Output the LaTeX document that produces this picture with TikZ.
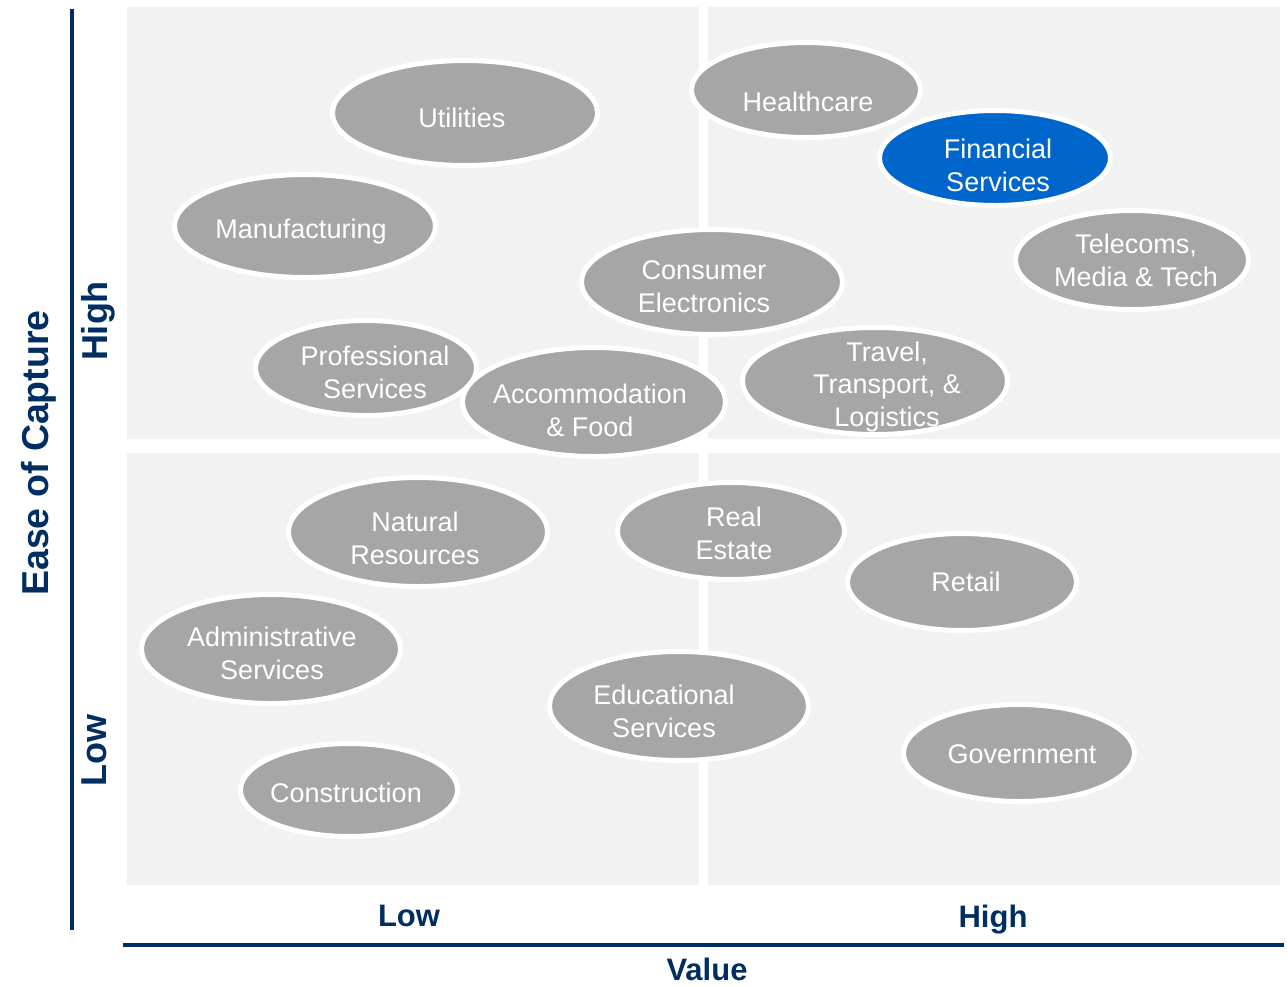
\documentclass[tikz,border=0pt]{standalone}
\usepackage{fontspec}
\setmainfont{Liberation Sans}
\usetikzlibrary{shapes.geometric}
\definecolor{navy}{HTML}{002D62}
\definecolor{panel}{HTML}{F2F2F2}
\definecolor{bubblegray}{HTML}{A6A6A6}
\definecolor{bubbleblue}{HTML}{0066CC}
\tikzset{
  panelbox/.style={fill=panel, draw=none},
  axisline/.style={draw=navy, line width=4pt},
  bubble/.style={ellipse, fill=bubblegray, draw=white, line width=5pt, inner sep=0pt},
  bluebubble/.style={bubble, fill=bubbleblue},
  btext/.style={text=white, align=center, inner sep=0pt, text depth=0pt,
    font=\fontsize{27}{32.5}\selectfont},
  axislabel/.style={text=navy, inner sep=0pt, text depth=0pt,
    font=\fontsize{31}{36}\selectfont\bfseries},
  sidelabel/.style={text=navy, inner sep=0pt, text depth=0pt, rotate=90,
    font=\fontsize{36}{40}\selectfont\bfseries}
}
\begin{document}
\begin{tikzpicture}[x=1pt, y=-1pt]
\useasboundingbox (0,0) rectangle (1288,986);

% quadrant panels
\fill[panelbox] (127,7) rectangle (699,439);
\fill[panelbox] (708,7) rectangle (1280,439);
\fill[panelbox] (127,453) rectangle (699,885);
\fill[panelbox] (708,453) rectangle (1280,885);

% axes
\coordinate (ytop) at (72,9);
\coordinate (ybot) at (72,930);
\coordinate (xleft) at (123,945);
\coordinate (xright) at (1284,945);
\draw[axisline] (ytop) -- (ybot);
\draw[axisline] (xleft) -- (xright);

% axis labels
\node[sidelabel, font=\fontsize{37.5}{42}\selectfont\bfseries] (ease) at (35,453) {Ease of Capture};
\node[sidelabel] (yhigh) at (94,321) {High};
\node[sidelabel] (ylow) at (94,750) {Low};
\node[axislabel] (xlow) at (409,916) {Low};
\node[axislabel] (xhigh) at (993,916) {High};
\node[axislabel] (value) at (707,969) {Value};

% sector bubbles, high ease of capture
\node[bubble, minimum width=265pt, minimum height=105pt] (util) at (465,113) {};
\node[btext] (util-t) at (462,118) {Utilities};

\node[bubble, minimum width=229pt, minimum height=95pt] (health) at (806,90) {};
\node[btext] (health-t) at (808,102) {Healthcare};

\node[bluebubble, minimum width=231pt, minimum height=95pt] (fin) at (995,158) {};
\node[btext] (fin-t) at (998,165) {Financial\\Services};

\node[bubble, minimum width=261pt, minimum height=103pt] (manu) at (305,226) {};
\node[btext] (manu-t) at (301,229) {Manufacturing};

\node[bubble, minimum width=261pt, minimum height=105pt] (cons) at (712,282) {};
\node[btext] (cons-t) at (704,286.5) {Consumer\\Electronics};

\node[bubble, minimum width=233pt, minimum height=99pt] (tele) at (1132,260) {};
\node[btext] (tele-t) at (1136,260) {Telecoms,\\Media \& Tech};

\node[bubble, minimum width=221pt, minimum height=95pt] (prof) at (366,368) {};
\node[btext] (prof-t) at (375,372) {Professional\\Services};

\node[bubble, minimum width=263pt, minimum height=109pt] (accom) at (594,402) {};
\node[btext] (accom-t) at (590,410) {Accommodation\\\& Food};

\node[bubble, minimum width=265pt, minimum height=107pt] (travel) at (875,381) {};
\node[btext] (travel-t) at (887,384) {Travel,\\Transport, \&\\Logistics};

% sector bubbles, low ease of capture
\node[bubble, minimum width=259pt, minimum height=109pt] (natres) at (418,532) {};
\node[btext] (natres-t) at (415,538) {Natural\\Resources};

\node[bubble, minimum width=227pt, minimum height=97pt] (realest) at (731,531) {};
\node[btext] (realest-t) at (734,533) {Real\\Estate};

\node[bubble, minimum width=229pt, minimum height=97pt] (retail) at (962,582) {};
\node[btext] (retail-t) at (966,582) {Retail};

\node[bubble, minimum width=259pt, minimum height=109pt] (admin) at (271,649) {};
\node[btext] (admin-t) at (272,653) {Administrative\\Services};

\node[bubble, minimum width=259pt, minimum height=109pt] (edu) at (679,706) {};
\node[btext] (edu-t) at (664,711) {Educational\\Services};

\node[bubble, minimum width=217pt, minimum height=93pt] (constr) at (349,790) {};
\node[btext] (constr-t) at (346,793) {Construction};

\node[bubble, minimum width=231pt, minimum height=97pt] (gov) at (1019,753) {};
\node[btext] (gov-t) at (1022,754) {Government};
\end{tikzpicture}
\end{document}
